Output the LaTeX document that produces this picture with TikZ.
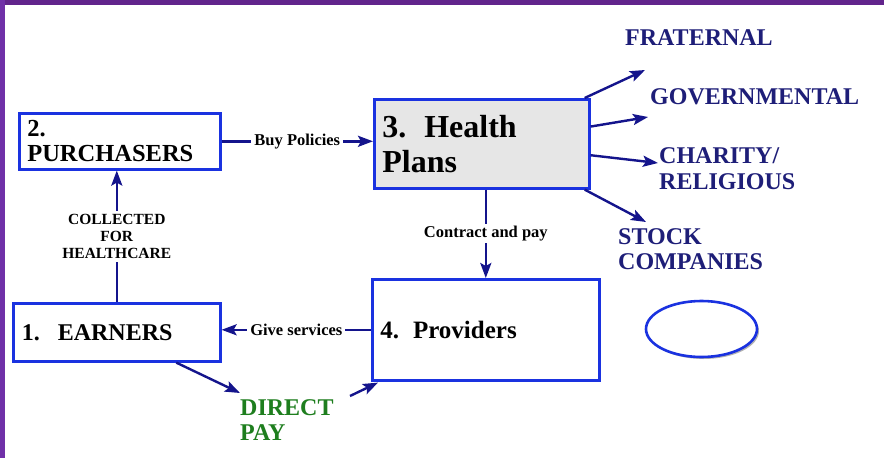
\documentclass[tikz,border=0pt]{standalone}
\usepackage{fontspec}
\setmainfont{Liberation Serif}
\usetikzlibrary{arrows.meta,shadows,shapes.geometric,calc}
\definecolor{purptop}{RGB}{98,36,140}
\definecolor{purpleft}{RGB}{112,48,168}
\definecolor{boxblue}{RGB}{26,50,224}
\definecolor{navy}{RGB}{20,20,140}
\definecolor{lab}{RGB}{30,30,120}
\definecolor{dgreen}{RGB}{30,126,30}
\definecolor{hpgray}{RGB}{230,230,230}
\begin{document}
\begin{tikzpicture}[x=1pt,y=-1pt,
 box/.style={draw=boxblue, line width=2.6pt, fill=white, rectangle, align=left,
   inner xsep=8pt, inner ysep=0pt, anchor=north west,
   drop shadow={shadow xshift=2pt, shadow yshift=-2pt, opacity=0.3, fill=black}},
 conn/.style={draw=navy, line width=2.4pt, -{Stealth[length=15pt,width=11pt,inset=3pt]}},
 lbl/.style={font=\bfseries\fontsize{16.5}{18}\selectfont, fill=white, inner xsep=3pt, inner ysep=2pt},
 cat/.style={text=lab, font=\bfseries\fontsize{24}{25}\selectfont, align=left, anchor=west, inner sep=0pt},
]
\useasboundingbox (0,0) rectangle (884,458);
\fill[white] (0,0) rectangle (884,458);
\fill[purptop] (0,0) rectangle (884,5);
\fill[purpleft] (0,0) rectangle (5,458);

% boxes
\node[box, minimum width=201, minimum height=56, text width=185,
  font=\bfseries\fontsize{24.5}{25}\selectfont] (pur) at (18,112) {2.\\PURCHASERS};
\node[box, minimum width=207, minimum height=58, text width=190,
  font=\bfseries\fontsize{24}{25}\selectfont] (ear) at (12,302) {1.\hspace{18pt}EARNERS};
\node[box, fill=hpgray, minimum width=215, minimum height=89, text width=199,
  font=\bfseries\fontsize{32}{35}\selectfont] (hp) at (373,98) {3.\hspace{18pt}Health\\Plans};
\node[box, minimum width=225, minimum height=101, text width=211,
  font=\bfseries\fontsize{25}{26}\selectfont] (prov) at (371,278) {4.\hspace{14pt}Providers};
\node[draw=boxblue, line width=2.6pt, ellipse, fill=white, minimum width=111, minimum height=56,
  drop shadow={shadow xshift=2pt, shadow yshift=-2pt, opacity=0.3, fill=black}] (ell) at (701.5,329) {};

% category labels
\node[cat] (frat) at (625,38) {FRATERNAL};
\node[cat] (gov) at (650,97) {GOVERNMENTAL};
\node[cat, font=\bfseries\fontsize{24}{26}\selectfont] (char) at (659,169) {CHARITY/\\RELIGIOUS};
\node[cat] (stock) at (618,249.5) {STOCK\\COMPANIES};
\node[cat, text=dgreen, font=\bfseries\fontsize{24}{24.5}\selectfont] (dp) at (240,420) {DIRECT\\PAY};

% arrow tips
\coordinate (tfrat) at (645,70);
\coordinate (tgov) at (648,117);
\coordinate (tchar) at (658,163);
\coordinate (tstock) at (646,222);
\coordinate (tdp) at (240,393);
\coordinate (sdp) at (350,396);

% connectors
\draw[conn] (pur.east) -- node[lbl]{Buy Policies} (hp.west |- pur.east);
\draw[conn] (ear.north) -- node[lbl, align=center, font=\bfseries\fontsize{15.5}{17}\selectfont, inner ysep=3pt]{COLLECTED\\FOR\\HEALTHCARE} (ear.north |- pur.south);
\draw[conn] (prov.north |- hp.south) -- node[lbl]{Contract and pay} (prov.north);
\draw[conn] (prov.west) -- node[lbl]{Give services} (prov.west -| ear.east);
\draw[conn] (ear.-27.2) -- (tdp);
\draw[conn] (sdp) -- ($(prov.south west)+(7,1)$);
\draw[conn] (hp.24.6) -- (tfrat);
\draw[conn] (hp.9.2) -- (tgov);
\draw[conn] (hp.-6.6) -- (tchar);
\draw[conn] (hp.-24) -- (tstock);
\end{tikzpicture}
\end{document}
